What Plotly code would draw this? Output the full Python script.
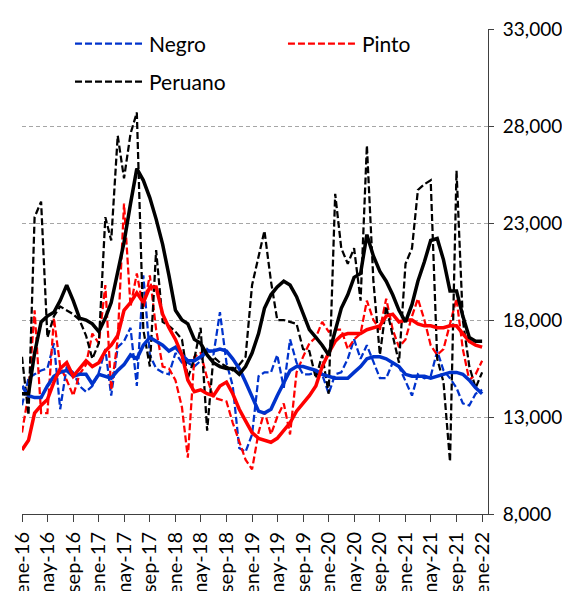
import pandas as pd
import plotly.graph_objects as go

# monthly prices, ene-16 .. ene-22
months = pd.date_range("2016-01-01", "2022-01-01", freq="MS")

negro = [13600, 15000, 15200, 15400, 15500, 16800, 13400, 15600, 15300, 14600, 14300, 14600,
         15300, 16500, 14100, 16600, 16900, 17600, 14600, 20300, 16200, 15500, 15300, 15200,
         16300, 15800, 15800, 15600, 15900, 16500, 16200, 18400, 15800, 14600, 11400, 11200,
         12100, 15100, 15300, 15300, 16200, 14500, 17000, 15800, 15200, 15200, 15300, 15200,
         14200, 15200, 15300, 16000, 17000, 16000, 16700, 15800, 15000, 15000, 15800, 15600,
         14800, 14100, 15200, 15000, 15100, 16400, 15400, 15000, 14500, 13700, 13600, 14200,
         14400]
pinto = [12200, 14200, 18500, 13200, 13200, 18100, 15600, 14900, 14100, 15200, 15700, 17300,
         16800, 19800, 14400, 17000, 24000, 18700, 20400, 18600, 20300, 17500, 15600, 15500,
         14900, 13500, 10900, 16100, 16300, 15000, 14000, 13900, 13800, 12700, 11700, 10800,
         10300, 12200, 13300, 12100, 13000, 13700, 12100, 15300, 16100, 16800, 17100, 17900,
         17400, 17500, 17500, 16500, 17000, 17300, 19000, 18000, 17500, 19100, 17500, 16600,
         17000, 18200, 19100, 18000, 16700, 16200, 16500, 17800, 19100, 16500, 14900, 15200,
         15900]
peruano = [16100, 13100, 23300, 24100, 17100, 18200, 18700, 18500, 18300, 18000, 17200, 16000,
           16800, 23300, 22100, 27500, 25300, 27600, 28700, 17500, 15600, 21600, 17900, 17700,
           17400, 17000, 15000, 16000, 17600, 12300, 16100, 15800, 15600, 15400, 15700, 16100,
           19800, 21200, 22600, 20000, 18000, 18000, 17900, 17800, 16500, 16400, 15000, 16200,
           14200, 24500, 21700, 20900, 21700, 19000, 27000, 20000, 16200, 18700, 17200, 15800,
           20900, 21700, 24700, 25000, 25200, 16000, 14800, 10700, 25700, 18000, 15600, 14500,
           15300]

# smoothed (moving average) lines
negro_ma = [14600, 14100, 14000, 14000, 14600, 15100, 15300, 15400, 15100, 15200, 15200, 14700,
            15200, 15100, 15000, 15400, 15700, 16200, 16000, 16700, 17100, 16900, 16700, 16400,
            16600, 16200, 15900, 15900, 16100, 16400, 16400, 16500, 16400, 16000, 15500, 14800,
            14100, 13300, 13200, 13400, 14100, 14800, 15400, 15600, 15600, 15500, 15400, 15200,
            15100, 15000, 15000, 15000, 15300, 15600, 16000, 16100, 16100, 16000, 15800, 15600,
            15200, 15100, 15100, 15100, 15000, 15100, 15200, 15300, 15300, 15200, 14900, 14500,
            14200]
pinto_ma = [11300, 11800, 13200, 13600, 13900, 14800, 15500, 15800, 15100, 15500, 15900, 15600,
            15800, 16400, 16700, 17200, 18500, 18900, 19400, 18900, 19700, 19700, 18300, 17600,
            17000, 16200, 14900, 14300, 14400, 14200, 14100, 14600, 14800, 14200, 13400, 12800,
            12200, 11900, 11800, 11700, 11900, 12300, 12700, 13300, 13700, 14100, 14600, 15600,
            16300, 16900, 17200, 17300, 17300, 17300, 17500, 17600, 17700, 18200, 18300, 17900,
            18000, 18000, 17800, 17700, 17700, 17600, 17600, 17700, 17700, 17300, 16900, 16700,
            16600]
peruano_ma = [14200, 14200, 16300, 17900, 18200, 18400, 19000, 19800, 19000, 18100, 18000, 17800,
              17400, 18100, 18900, 20500, 22000, 24000, 25800, 25200, 24300, 23200, 21900, 20300,
              18500, 18000, 17800, 17000, 16800, 16200, 15800, 15600, 15500, 15500, 15200, 15600,
              16300, 17300, 18600, 19300, 19700, 20000, 19800, 19200, 18300, 17500, 17100, 16700,
              16200, 17400, 18600, 19300, 20200, 20400, 22400, 21300, 20500, 20000, 19300, 18500,
              17900, 18800, 20000, 21000, 22100, 22200, 21100, 19500, 19500, 18200, 17100, 16900,
              16900]

tick_dates = pd.date_range("2016-01-01", "2022-01-01", freq="4MS")
tick_labels = ["ene-16", "may-16", "sep-16", "ene-17", "may-17", "sep-17", "ene-18",
               "may-18", "sep-18", "ene-19", "may-19", "sep-19", "ene-20", "may-20",
               "sep-20", "ene-21", "may-21", "sep-21", "ene-22"]

BLUE = "#0033CC"
RED = "#FF0000"
BLACK = "#000000"
FONT = "Lato"

fig = go.Figure()

series = [
    ("Negro", negro, negro_ma, BLUE, "legend"),
    ("Pinto", pinto, pinto_ma, RED, "legend2"),
    ("Peruano", peruano, peruano_ma, BLACK, "legend3"),
]

for name, vals, ma, color, leg in series:
    fig.add_trace(go.Scatter(
        x=months, y=vals, name=name, mode="lines",
        line=dict(color=color, width=2.25, dash="7px,3px"),
        legend=leg
    ))

for name, vals, ma, color, leg in series:
    fig.add_trace(go.Scatter(
        x=months, y=ma, name=name + " prom.", mode="lines",
        line=dict(color=color, width=3.5),
        showlegend=False
    ))

leg_style = dict(
    bgcolor="rgba(0,0,0,0)",
    font=dict(family=FONT, size=21, color="black"),
    xanchor="left", yanchor="middle",
    itemwidth=69,
)

fig.update_layout(
    width=570, height=591,
    margin=dict(l=14, r=90, t=21, b=85),
    paper_bgcolor="white", plot_bgcolor="white",
    font=dict(family=FONT, size=19, color="black"),
    hovermode=False,
    legend=dict(x=0.103, y=0.969, **leg_style),
    legend2=dict(x=0.56, y=0.969, **leg_style),
    legend3=dict(x=0.103, y=0.891, **leg_style),
)

fig.update_xaxes(
    type="date",
    range=["2016-01-01", "2022-01-29"],
    tickmode="array", tickvals=tick_dates, ticktext=tick_labels,
    tickangle=-90,
    ticks="outside", ticklen=7, tickcolor="#404040",
    showline=True, linecolor="#404040", linewidth=1,
    showgrid=False, zeroline=False, automargin=False,
    ticklabelstandoff=2,
    tickfont=dict(family=FONT, size=20, color="black"),
)

fig.update_yaxes(
    side="right",
    range=[8000, 33000], tick0=8000, dtick=5000,
    tickformat=",",
    ticks="outside", ticklen=5, tickcolor="#404040",
    showline=True, linecolor="#404040", linewidth=1,
    showgrid=True, gridcolor="#A6A6A6", gridwidth=1, griddash="4px,3px",
    zeroline=False, automargin=False,
    ticklabelstandoff=5,
    tickfont=dict(family=FONT, size=19, color="black"),
)

fig.write_html("out.html")
